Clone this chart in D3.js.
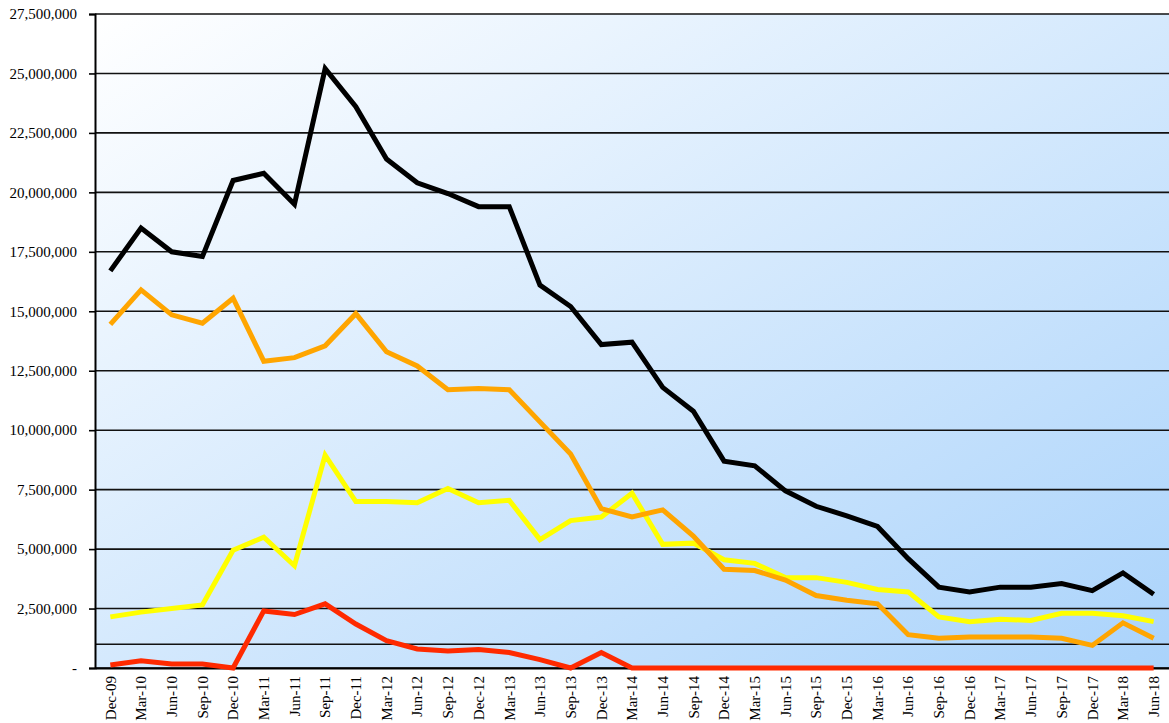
<!DOCTYPE html>
<html>
<head>
<meta charset="utf-8">
<script src="https://cdn.jsdelivr.net/npm/d3@7"></script>
<style>
  body { margin: 0; background: #fff; }
  svg { display: block; }
  .axis text { font-family: "Liberation Serif", "Times New Roman", serif; font-size: 15px; fill: #000; }
</style>
</head>
<body>
<div id="chart"></div>
<script>
var w = 1169, h = 723;
var margin = { top: 14, right: 0, bottom: 55, left: 95 };

var quarters = ["Dec-09","Mar-10","Jun-10","Sep-10","Dec-10","Mar-11","Jun-11","Sep-11","Dec-11",
  "Mar-12","Jun-12","Sep-12","Dec-12","Mar-13","Jun-13","Sep-13","Dec-13","Mar-14","Jun-14",
  "Sep-14","Dec-14","Mar-15","Jun-15","Sep-15","Dec-15","Mar-16","Jun-16","Sep-16","Dec-16",
  "Mar-17","Jun-17","Sep-17","Dec-17","Mar-18","Jun-18"];

var totalSeries = [16700000,18500000,17500000,17300000,20500000,20800000,19500000,25200000,23600000,
  21400000,20400000,19950000,19400000,19400000,16100000,15200000,13600000,13700000,11800000,
  10800000,8700000,8500000,7450000,6800000,6400000,5950000,4600000,3400000,3200000,
  3400000,3400000,3550000,3250000,4000000,3100000];

var orangeSeries = [14450000,15900000,14850000,14500000,15550000,12900000,13050000,13550000,14900000,
  13300000,12700000,11700000,11750000,11700000,10350000,9000000,6700000,6350000,6650000,
  5550000,4150000,4100000,3700000,3050000,2850000,2700000,1400000,1250000,1300000,
  1300000,1300000,1250000,950000,1900000,1250000];

var yellowSeries = [2150000,2350000,2500000,2650000,4950000,5500000,4300000,8950000,7000000,
  7000000,6950000,7550000,6950000,7050000,5400000,6200000,6350000,7350000,5200000,
  5250000,4550000,4400000,3800000,3800000,3600000,3300000,3200000,2150000,1950000,
  2050000,2000000,2300000,2300000,2200000,1950000];

var redSeries = [130000,300000,170000,170000,0,2400000,2250000,2700000,1850000,
  1150000,800000,720000,780000,650000,350000,0,650000,0,0,
  0,0,0,0,0,0,0,0,0,0,
  0,0,0,0,0,0];

var yTicks = [0,2500000,5000000,7500000,10000000,12500000,15000000,17500000,20000000,22500000,25000000,27500000];
var extraGrid = [1000000];

var series = [
  { values: totalSeries, color: "#000000" },
  { values: yellowSeries, color: "#ffff00" },
  { values: orangeSeries, color: "#ffa500" },
  { values: redSeries, color: "#ff2a00" }
];

var svg = d3.select("#chart").append("svg")
  .attr("width", w)
  .attr("height", h);

var defs = svg.append("defs");
var grad = defs.append("linearGradient")
  .attr("id", "bg")
  .attr("x1", "0%").attr("y1", "0%")
  .attr("x2", "100%").attr("y2", "100%");
grad.append("stop").attr("offset", "0%").attr("stop-color", "#ffffff");
grad.append("stop").attr("offset", "100%").attr("stop-color", "#aad3fb");

var xScale = d3.scaleBand()
  .domain(quarters)
  .range([margin.left, w - margin.right]);

var yScale = d3.scaleLinear()
  .domain([0, 27500000])
  .range([h - margin.bottom, margin.top]);

// plot background
svg.append("rect")
  .attr("x", margin.left)
  .attr("y", margin.top)
  .attr("width", w - margin.right - margin.left)
  .attr("height", yScale(0) - margin.top)
  .attr("fill", "url(#bg)");

// gridlines
svg.append("g")
  .selectAll("line")
  .data(yTicks.concat(extraGrid))
  .enter()
  .append("line")
  .attr("x1", margin.left)
  .attr("x2", w - margin.right)
  .attr("y1", function(d) { return yScale(d); })
  .attr("y2", function(d) { return yScale(d); })
  .attr("stroke", "#111")
  .attr("stroke-width", 1.6);

// y axis
var yAxis = d3.axisLeft(yScale)
  .tickValues(yTicks)
  .tickSize(6)
  .tickPadding(12)
  .tickFormat(function(d) { return d === 0 ? "-" : d3.format(",")(d); });

var gy = svg.append("g")
  .attr("class", "axis")
  .attr("transform", "translate(" + margin.left + ",0)")
  .call(yAxis);
gy.select(".domain").attr("stroke", "#000").attr("stroke-width", 2);
gy.selectAll(".tick line").attr("stroke", "#000").attr("stroke-width", 1.6);

// x axis
var xAxis = d3.axisBottom(xScale).tickSize(0).tickPadding(0);
var gx = svg.append("g")
  .attr("class", "axis")
  .attr("transform", "translate(0," + yScale(0) + ")")
  .call(xAxis);
gx.select(".domain").attr("stroke", "#000").attr("stroke-width", 2);
gx.selectAll("text")
  .attr("transform", "rotate(-90)")
  .attr("text-anchor", "end")
  .attr("dy", "0.35em")
  .attr("x", -8)
  .attr("y", 0);

// lines
var line = d3.line()
  .x(function(d, i) { return xScale(quarters[i]) + xScale.bandwidth() / 2; })
  .y(function(d) { return yScale(d); });

svg.append("g")
  .selectAll("path")
  .data(series)
  .enter()
  .append("path")
  .attr("d", function(d) { return line(d.values); })
  .attr("fill", "none")
  .attr("stroke", function(d) { return d.color; })
  .attr("stroke-width", 5)
  .attr("stroke-linejoin", "miter");
</script>
</body>
</html>
